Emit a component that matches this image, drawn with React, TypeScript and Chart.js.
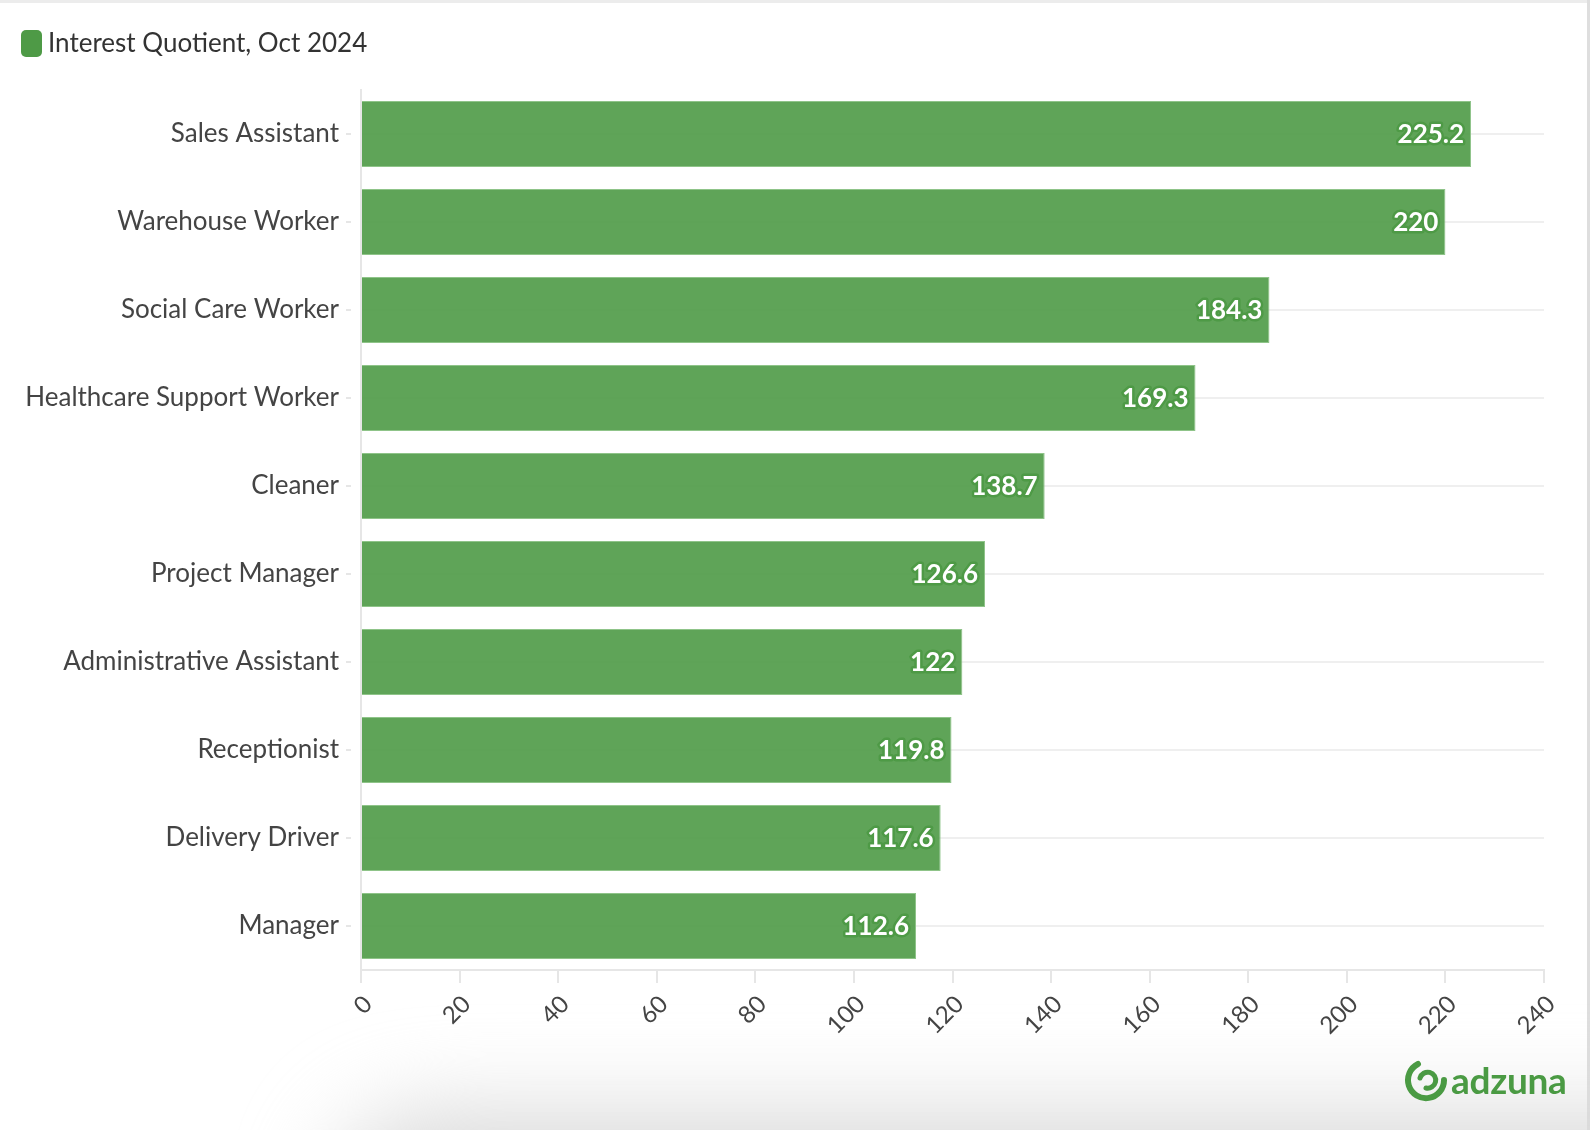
import { Chart, registerables } from "chart.js"
import React, { useEffect, useRef } from "react"

Chart.register(...registerables)

const jobTitles = [
  "Sales Assistant",
  "Warehouse Worker",
  "Social Care Worker",
  "Healthcare Support Worker",
  "Cleaner",
  "Project Manager",
  "Administrative Assistant",
  "Receptionist",
  "Delivery Driver",
  "Manager",
]
const interestQuotient = [225.2, 220, 184.3, 169.3, 138.7, 126.6, 122, 119.8, 117.6, 112.6]
const seriesLabel = "Interest Quotient, Oct 2024"
const axisMin = 0
const axisMax = 240
const axisStep = 20

const FONT = "Lato"
const GREEN = "#4e9a46"
const AXIS_GREY = "#e6e6e6"

// white numbers with a green halo at the end of each bar
const valueLabels = {
  id: "valueLabels",
  afterDatasetsDraw(chart: Chart) {
    const { ctx } = chart
    const meta = chart.getDatasetMeta(0)
    ctx.save()
    ctx.font = `bold 26px ${FONT}`
    ctx.textAlign = "right"
    ctx.textBaseline = "middle"
    ctx.lineJoin = "round"
    meta.data.forEach((bar: any, i: number) => {
      const text = String(interestQuotient[i])
      const x = bar.x - 7
      const y = bar.y + 1
      ctx.lineWidth = 5
      ctx.strokeStyle = GREEN
      ctx.strokeText(text, x, y)
      ctx.fillStyle = "#ffffff"
      ctx.fillText(text, x, y)
    })
    ctx.restore()
  },
}

// short tick marks left of the category axis, with a gap before the axis line
const categoryTicks = {
  id: "categoryTicks",
  afterDraw(chart: Chart) {
    const { ctx, chartArea } = chart
    const yScale = chart.scales.y
    ctx.save()
    ctx.strokeStyle = AXIS_GREY
    ctx.lineWidth = 2
    yScale.ticks.forEach((_t, i) => {
      const y = yScale.getPixelForTick(i)
      ctx.beginPath()
      ctx.moveTo(chartArea.left - 15, y)
      ctx.lineTo(chartArea.left - 10, y)
      ctx.stroke()
    })
    ctx.restore()
  },
}

// more room under the legend, and a wider swatch than the text gap allows
const legendTweaks = {
  id: "legendTweaks",
  afterInit(chart: any) {
    const fit = chart.legend.fit
    chart.legend.fit = function () {
      fit.bind(chart.legend)()
      this.height += 23
    }
  },
  afterDraw(chart: any) {
    const box = chart.legend?.legendHitBoxes?.[0]
    if (!box) return
    const { ctx } = chart
    const cy = box.top + box.height / 2
    ctx.save()
    ctx.fillStyle = GREEN
    ctx.beginPath()
    ctx.roundRect(box.left, cy - 13.5, 21, 27, 5)
    ctx.fill()
    ctx.restore()
  },
}

const AdzunaLogo: React.FC = () => (
  <div
    style={{
      position: "absolute",
      left: 1404,
      top: 1057,
      display: "flex",
      alignItems: "center",
      color: "#4a9a43",
    }}
  >
    <svg width="46" height="44" viewBox="0 0 46 44">
      <path
        d="M 14 6 A 18 18 0 1 0 40 22"
        fill="none"
        stroke="#4a9a43"
        strokeWidth="6"
        strokeLinecap="round"
      />
      <path
        d="M 22 30 A 8 8 0 1 0 16 20"
        fill="none"
        stroke="#4a9a43"
        strokeWidth="5"
        strokeLinecap="round"
      />
    </svg>
    <span style={{ font: `bold 37px ${FONT}`, marginLeft: 1, letterSpacing: -0.3 }}>adzuna</span>
  </div>
)

const App: React.FC = () => {
  const canvasRef = useRef<HTMLCanvasElement>(null)

  useEffect(() => {
    const ctx = canvasRef.current?.getContext("2d")
    if (!ctx) return

    const chart = new Chart(ctx, {
      type: "bar",
      data: {
        labels: jobTitles,
        datasets: [
          {
            label: seriesLabel,
            data: interestQuotient,
            backgroundColor: "rgba(78,154,70,0.9)",
            borderColor: "#8fc489",
            borderWidth: 1,
            categoryPercentage: 1,
            barPercentage: 0.75,
          },
        ],
      },
      options: {
        indexAxis: "y",
        animation: false,
        responsive: true,
        maintainAspectRatio: false,
        layout: { padding: { top: 9, left: 0, right: 36, bottom: 0 } },
        plugins: {
          tooltip: { enabled: false },
          legend: {
            position: "top",
            align: "start",
            labels: {
              boxWidth: 14,
              boxHeight: 27,
              padding: 21,
              color: "#333333",
              font: { family: FONT, size: 26 },
              generateLabels: (c: Chart) =>
                Chart.defaults.plugins.legend.labels.generateLabels(c).map((item) => ({
                  ...item,
                  fillStyle: "rgba(0,0,0,0)",
                  strokeStyle: "rgba(0,0,0,0)",
                  lineWidth: 0,
                })),
            },
          },
        },
        scales: {
          x: {
            type: "linear",
            min: axisMin,
            max: axisMax,
            afterFit: (scale) => {
              scale.height = 90
            },
            ticks: {
              stepSize: axisStep,
              minRotation: 45,
              maxRotation: 45,
              padding: 7,
              labelOffset: 7,
              color: "#444444",
              font: { family: FONT, size: 24 },
            },
            grid: {
              drawOnChartArea: false,
              drawTicks: true,
              tickLength: 13,
              tickColor: AXIS_GREY,
              lineWidth: 2,
            },
            border: { display: true, color: AXIS_GREY, width: 2 },
          },
          y: {
            type: "category",
            afterFit: (scale) => {
              scale.width = 361
            },
            ticks: {
              padding: 22,
              color: "#444444",
              font: { family: FONT, size: 26 },
            },
            grid: {
              offset: false,
              drawTicks: false,
              color: "#efefef",
              lineWidth: 2,
            },
            border: { display: true, color: AXIS_GREY, width: 2 },
          },
        },
      },
      plugins: [valueLabels, categoryTicks, legendTweaks],
    })

    return () => {
      chart.destroy()
    }
  }, [])

  return (
    <div
      style={{
        position: "absolute",
        left: 0,
        top: 0,
        width: 1590,
        height: 1130,
        overflow: "hidden",
        background: "#ffffff",
      }}
    >
      <div style={{ position: "absolute", left: 0, top: 0, width: 1590, height: 3, background: "#ececec" }} />
      <div style={{ position: "absolute", left: 1587, top: 0, width: 3, height: 1130, background: "#dedede" }} />
      <div
        style={{
          position: "absolute",
          left: 330,
          top: 1112,
          width: 1500,
          height: 200,
          borderRadius: 120,
          background: "#d9d9d9",
          filter: "blur(45px)",
        }}
      />
      <div style={{ position: "absolute", left: 0, top: 0, width: 1580, height: 1060 }}>
        <canvas ref={canvasRef}></canvas>
      </div>
      <AdzunaLogo />
    </div>
  )
}

export default App
